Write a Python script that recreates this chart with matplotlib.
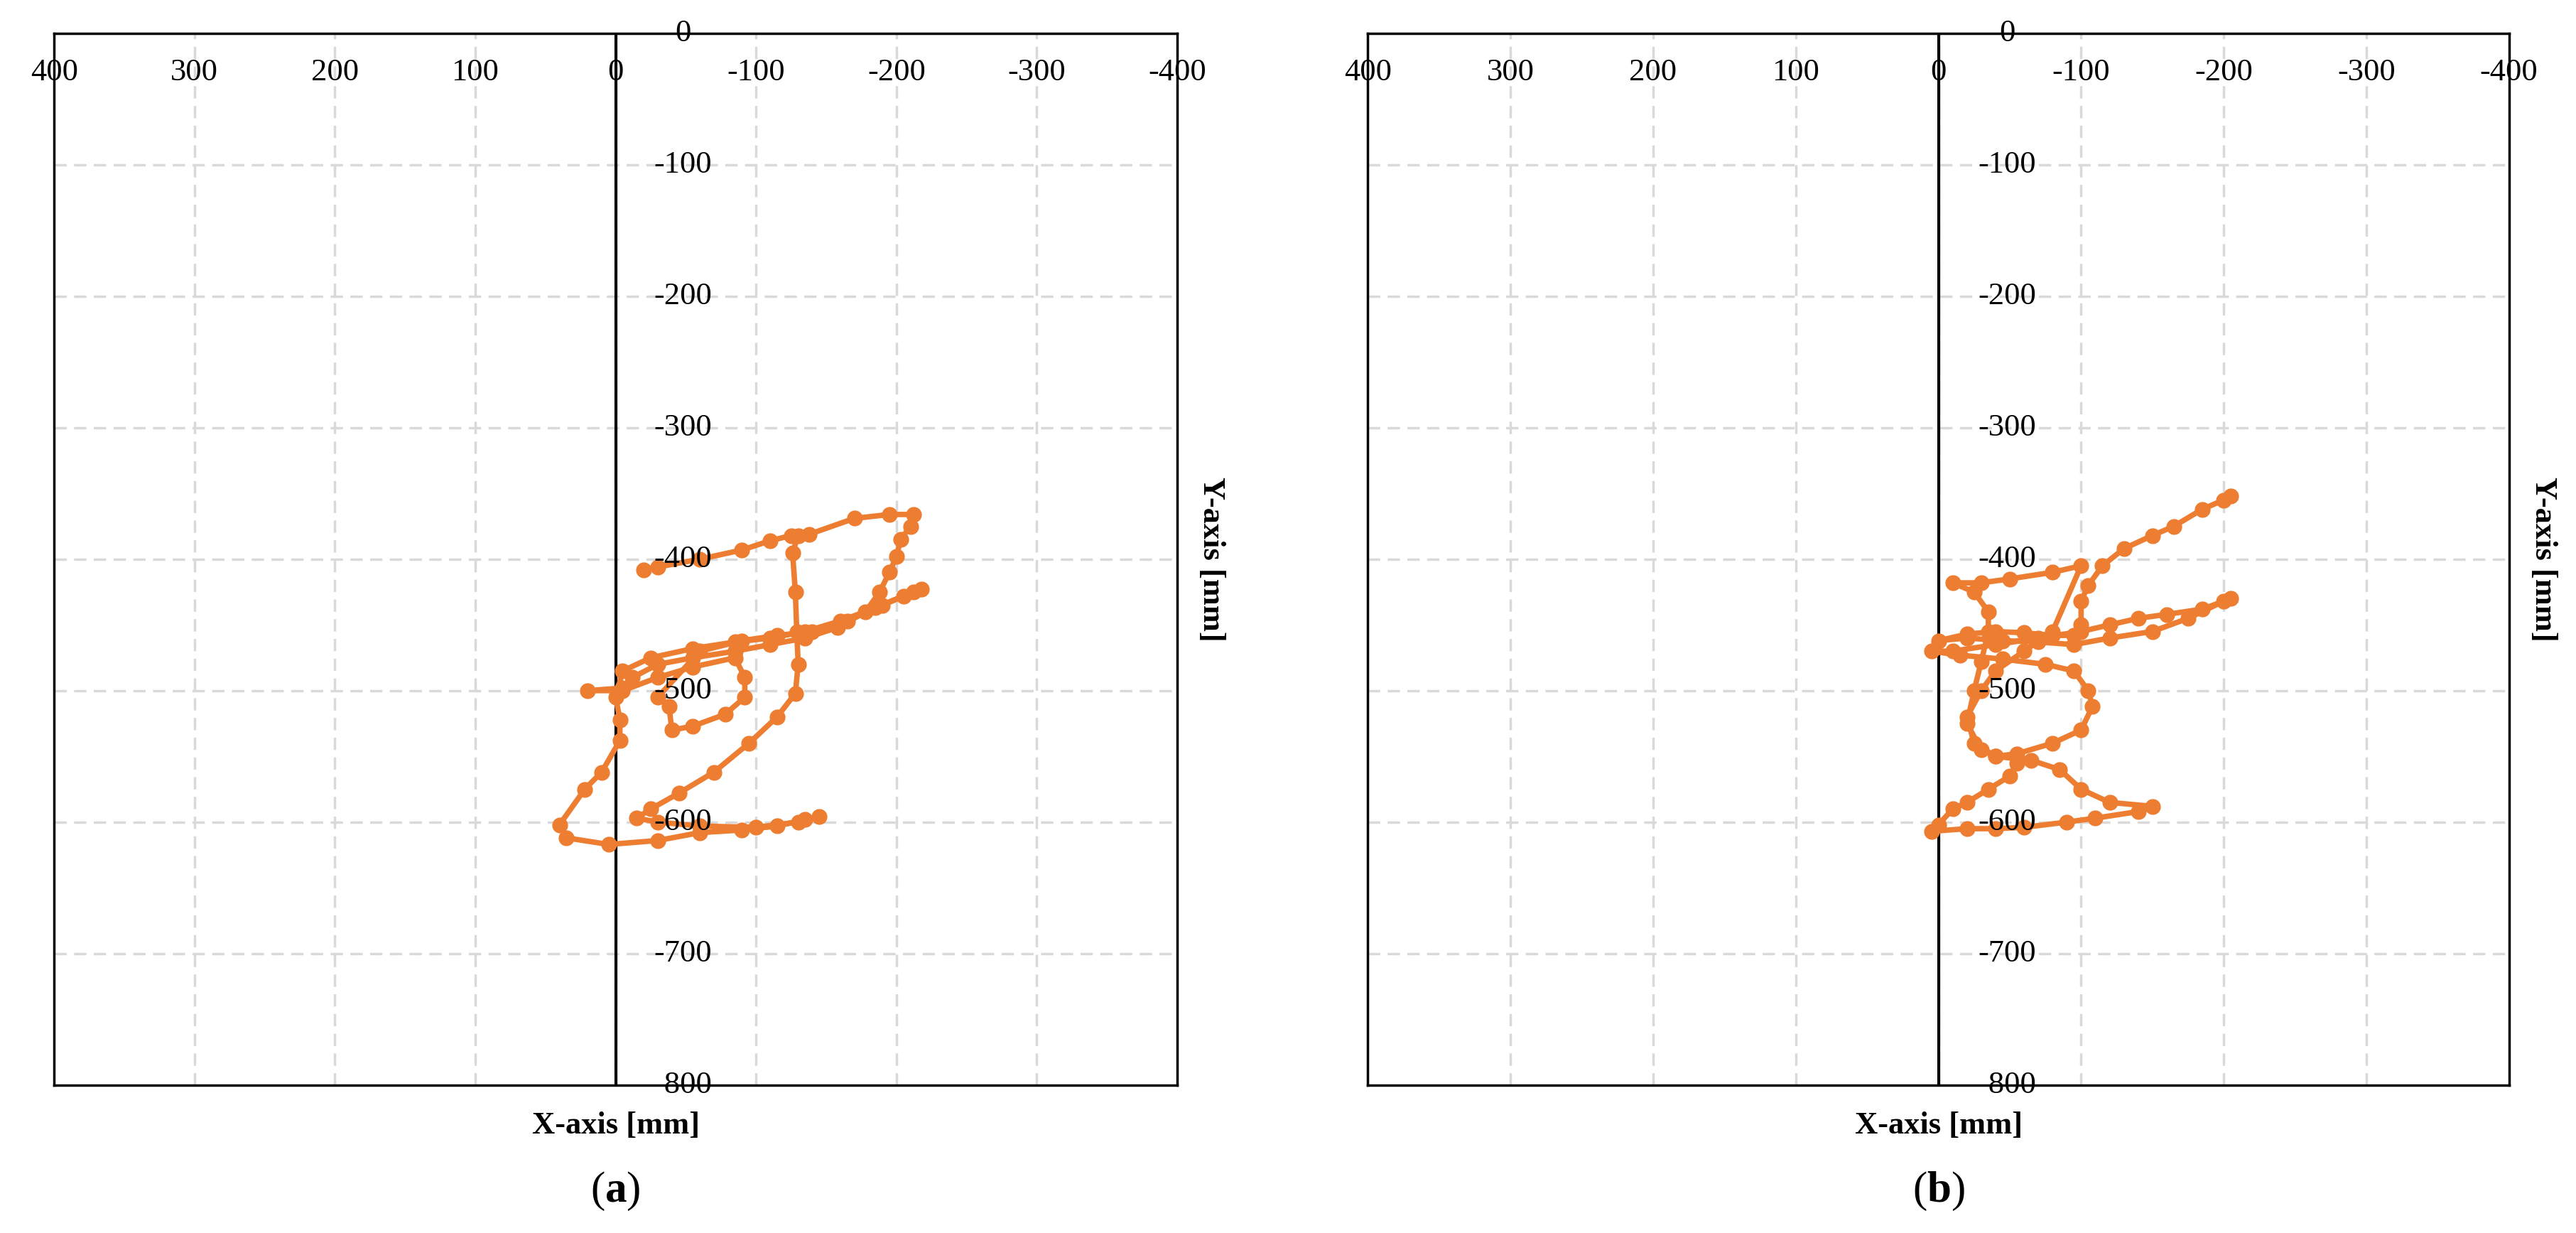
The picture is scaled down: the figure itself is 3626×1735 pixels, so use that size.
import matplotlib
matplotlib.use("Agg")
import matplotlib.pyplot as plt

plt.rcParams['font.family'] = ['Liberation Serif', 'DejaVu Serif']
plt.rcParams['mathtext.fontset'] = 'custom'
plt.rcParams['mathtext.rm'] = 'Liberation Serif'
plt.rcParams['mathtext.bf'] = 'Liberation Serif:bold'

x_ticks = [400, 300, 200, 100, 0, -100, -200, -300, -400]
y_ticks = [0, -100, -200, -300, -400, -500, -600, -700, -800]

ax_x = [-20, -30, -60, -90, -110, -125, -138, -170, -195, -212, -210, -203, -200, -195, -188, -178,
        -158, -135, -110, -85, -55, -30, -12, -5, 20, -5, -30, -55, -85, -92, -92, -78, -55, -40,
        -38, -30, -60, -90, -115, -140, -165, -190, -212, -218, -205, -185, -160, -135, -110, -85,
        -55, -25, -5, 0, -3, -3, 10, 22, 40, 35, 5, -30, -60, -90, -115, -135, -145, -130, -100,
        -60, -30, -15, -25, -45, -70, -95, -115, -128, -130, -129, -128, -126, -130]
ay_y = [-408, -406, -400, -393, -386, -382, -381, -369, -366, -366, -375, -385, -398, -410, -425, -440,
        -452, -460, -465, -470, -475, -480, -490, -498, -500, -500, -490, -482, -475, -490, -505, -518, -527, -530,
        -512, -505, -470, -462, -458, -455, -447, -435, -425, -423, -428, -437, -447, -455, -460, -463,
        -468, -475, -485, -505, -522, -538, -562, -575, -602, -612, -617, -614, -608, -606, -603, -598, -596, -600, -604,
        -603, -600, -597, -590, -578, -562, -540, -520, -502, -480, -455, -425, -395, -382]

bx_x = [-205, -200, -185, -165, -150, -130, -115, -105, -100, -100, -95, -80, -60, -40, -20, 0, -20, -45,
        -70, -95, -120, -150, -175, -200, -205, -185, -160, -140, -120, -100, -70, -40, -10, 5, -15, -45,
        -75, -95, -105, -108, -100, -80, -55, -40, -30, -20, -25, -30, -35, -35, -25, -10, -30, -50, -80,
        -100, -80, -60, -40, -30, -20, -25, -40, -65, -85, -100, -120, -150, -140, -110, -90, -60, -40,
        -20, 5, 0, -10, -20, -35, -50, -55]
by_y = [-352, -355, -362, -375, -382, -392, -405, -420, -432, -450, -458, -458, -456, -455, -457, -462, -460, -462,
        -463, -465, -460, -455, -445, -432, -430, -438, -442, -445, -450, -455, -460, -465, -470, -470, -473, -476,
        -480, -485, -500, -512, -530, -540, -548, -550, -545, -525, -500, -478, -455, -440, -425, -418, -418, -415, -410,
        -405, -455, -470, -485, -500, -520, -540, -550, -553, -560, -575, -585, -588, -592, -597, -600, -604, -605,
        -605, -607, -602, -590, -585, -575, -565, -555]

orange = '#ED7D31'
fig = plt.figure(figsize=(36.26, 17.35), dpi=100)
panels = [([0.021, 0.12, 0.436, 0.853], ax_x, ay_y, 'a'),
          ([0.531, 0.12, 0.443, 0.853], bx_x, by_y, 'b')]
fs = 32
for rect, xs, ys, lab in panels:
    ax = fig.add_axes(rect)
    ax.set_xlim(400, -400)
    ax.set_ylim(-800, 0)
    for t in x_ticks[1:-1]:
        ax.axvline(t, color='#d9d9d9', ls=(0, (5, 3)), lw=2.5, zorder=0)
    for t in y_ticks[1:-1]:
        ax.axhline(t, color='#d9d9d9', ls=(0, (5, 3)), lw=2.5, zorder=0)
    ax.axvline(0, color='black', lw=3, zorder=1)
    ax.plot(xs, ys, '-o', color=orange, lw=5.5, ms=15, zorder=3)
    ax.set_xticks([]); ax.set_yticks([])
    for s in ax.spines.values():
        s.set_linewidth(2.5)
    for t in x_ticks:
        ax.text(t, -30, str(t), ha='center', va='center', fontsize=fs, zorder=4)
    for t in y_ticks:
        ax.text(-48, t, str(t), ha='center', va='center', fontsize=fs, zorder=4)
    ax.text(0, -820, 'X-axis [mm]', ha='center', va='top', fontsize=fs, fontweight='bold')
    ax.text(1.03, 0.5, 'Y-axis [mm]', transform=ax.transAxes, rotation=270,
            ha='center', va='center', fontsize=fs, fontweight='bold')
    ax.text(0, -865, r'($\mathbf{' + lab + r'}$)', ha='center', va='top', fontsize=44)

fig.savefig('out.png', dpi=100)
